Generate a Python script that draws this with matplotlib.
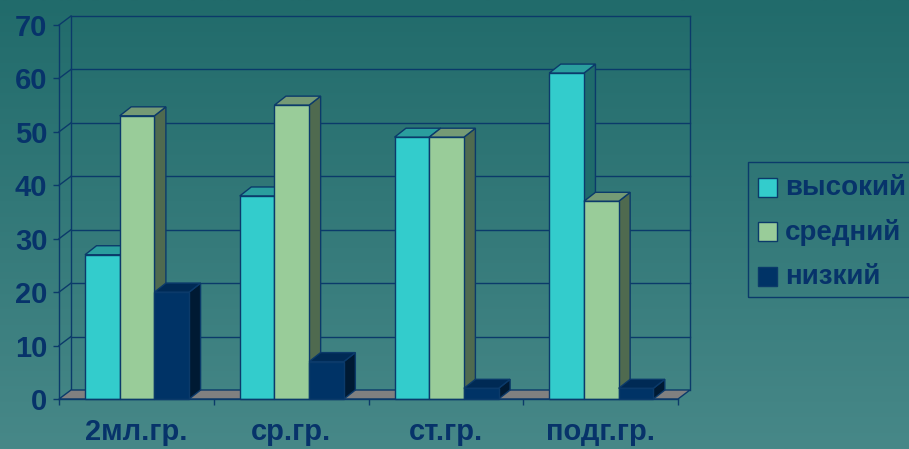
import numpy as np
import matplotlib
matplotlib.use("Agg")
import matplotlib.pyplot as plt
from matplotlib.patches import Polygon, Rectangle
from matplotlib.colors import LinearSegmentedColormap

plt.rcParams['font.family'] = ['Liberation Sans', 'DejaVu Sans']
plt.rcParams['font.weight'] = 'bold'

categories = ["2мл.гр.", "ср.гр.", "ст.гр.", "подг.гр."]
series_names = ["высокий", "средний", "низкий"]
vysokiy = [27, 38, 49, 61]
sredniy = [53, 55, 49, 37]
nizkiy = [20, 7, 2, 2]
yticks = [0, 10, 20, 30, 40, 50, 60, 70]

series = [vysokiy, sredniy, nizkiy]
front_cols = ["#33CCCC", "#99CC99", "#003366"]
top_cols = ["#2A9E9E", "#759A75", "#002A55"]
side_cols = ["#1F6B6B", "#4F6A4F", "#001A33"]
edge = "#0B3A6A"
text_col = "#07336A"

W, H = 909, 449
fig = plt.figure(figsize=(W / 100, H / 100), dpi=100)

# background gradient
bg = fig.add_axes([0, 0, 1, 1], zorder=-5)
cmap = LinearSegmentedColormap.from_list("bg", ["#216B6B", "#478888"])
grad = np.linspace(0, 1, 256).reshape(-1, 1)
bg.imshow(grad, aspect="auto", cmap=cmap, extent=[0, 1, 0, 1], origin="upper")
bg.axis("off")

# main axes: data x in category units [0,4], y in values [0,70]
x_left, x_right = 59, 678
y_zero, y_top = 399, 25
ax = fig.add_axes([x_left / W, 1 - y_zero / H, (x_right - x_left) / W, (y_zero - y_top) / H])
ax.set_facecolor("none")
ax.set_xlim(0, 4)
ax.set_ylim(0, 70)
px_x = 4 / (x_right - x_left)
px_y = 70 / (y_zero - y_top)
ddx = 12 * px_x
ddy = 9 * px_y
lw = 1.0

# floor
ax.add_patch(Polygon([(0, 0), (4, 0), (4 + ddx, ddy), (ddx, ddy)], closed=True,
                     facecolor="#808080", edgecolor=edge, lw=lw, clip_on=False, zorder=1))
# back wall grid and left wall diagonals
for v in yticks:
    if v > 0:
        ax.plot([ddx, 4 + ddx], [v + ddy, v + ddy], color=edge, lw=lw, clip_on=False, zorder=0.5)
        ax.plot([0, ddx], [v, v + ddy], color=edge, lw=lw, clip_on=False, zorder=0.5)
ax.plot([ddx, ddx], [ddy, 70 + ddy], color=edge, lw=lw, clip_on=False, zorder=0.5)
ax.plot([4 + ddx, 4 + ddx], [ddy, 70 + ddy], color=edge, lw=lw, clip_on=False, zorder=0.5)

# bars
bw = 34.7 * px_x
goff = 26 * px_x
bdx = 11.5 * px_x
bdy = 9 * px_y
z = 2
for i in range(len(categories)):
    for j, vals in enumerate(series):
        v = vals[i]
        x0 = i + goff + j * bw
        side = Polygon([(x0 + bw, 0), (x0 + bw + bdx, bdy), (x0 + bw + bdx, v + bdy), (x0 + bw, v)],
                       closed=True, facecolor=side_cols[j], edgecolor=edge, lw=lw, zorder=z, clip_on=False)
        top = Polygon([(x0, v), (x0 + bw, v), (x0 + bw + bdx, v + bdy), (x0 + bdx, v + bdy)],
                      closed=True, facecolor=top_cols[j], edgecolor=edge, lw=lw, zorder=z, clip_on=False)
        ax.add_patch(side)
        ax.add_patch(top)
        ax.bar(x0, v, width=bw, align="edge", color=front_cols[j], edgecolor=edge, lw=lw,
               zorder=z + 0.5, clip_on=False)
        z += 1

# spines / ticks
for s in ["top", "right"]:
    ax.spines[s].set_visible(False)
for s in ["left", "bottom"]:
    ax.spines[s].set_color(edge)
    ax.spines[s].set_linewidth(lw)
    ax.spines[s].set_zorder(50)
ax.set_yticks(yticks)
ax.set_yticklabels([str(t) for t in yticks])
ax.tick_params(axis="y", length=4.3, width=lw, color=edge, pad=4, labelsize=21, labelcolor=text_col)
ax.set_xticks(range(5))
ax.set_xticklabels([])
ax.set_xticks([i + 0.5 for i in range(4)], minor=True)
ax.set_xticklabels(categories, minor=True)
ax.tick_params(axis="x", which="major", length=4.3, width=lw, color=edge)
ax.tick_params(axis="x", which="minor", length=0, pad=14, labelsize=21, labelcolor=text_col)
for lab in ax.get_xticklabels(minor=True) + ax.get_yticklabels():
    lab.set_fontweight("bold")

# legend
lx0, ly0, ly1 = 748, 162, 297
fig.patches.append(Rectangle((lx0 / W, 1 - ly1 / H), (W + 5 - lx0) / W, (ly1 - ly0) / H,
                             transform=fig.transFigure, facecolor="none", edgecolor=edge, lw=lw))
rows = [188, 232.5, 277]
for k, name in enumerate(series_names):
    yc = rows[k]
    fig.patches.append(Rectangle((758 / W, 1 - (yc - 1 + 9.5) / H), 19 / W, 19 / H,
                                 transform=fig.transFigure, facecolor=front_cols[k],
                                 edgecolor=edge, lw=lw))
    fig.text(785 / W, 1 - yc / H, name, fontsize=20, fontweight="bold", color=text_col,
             ha="left", va="center")

fig.savefig("out.png", dpi=100)
